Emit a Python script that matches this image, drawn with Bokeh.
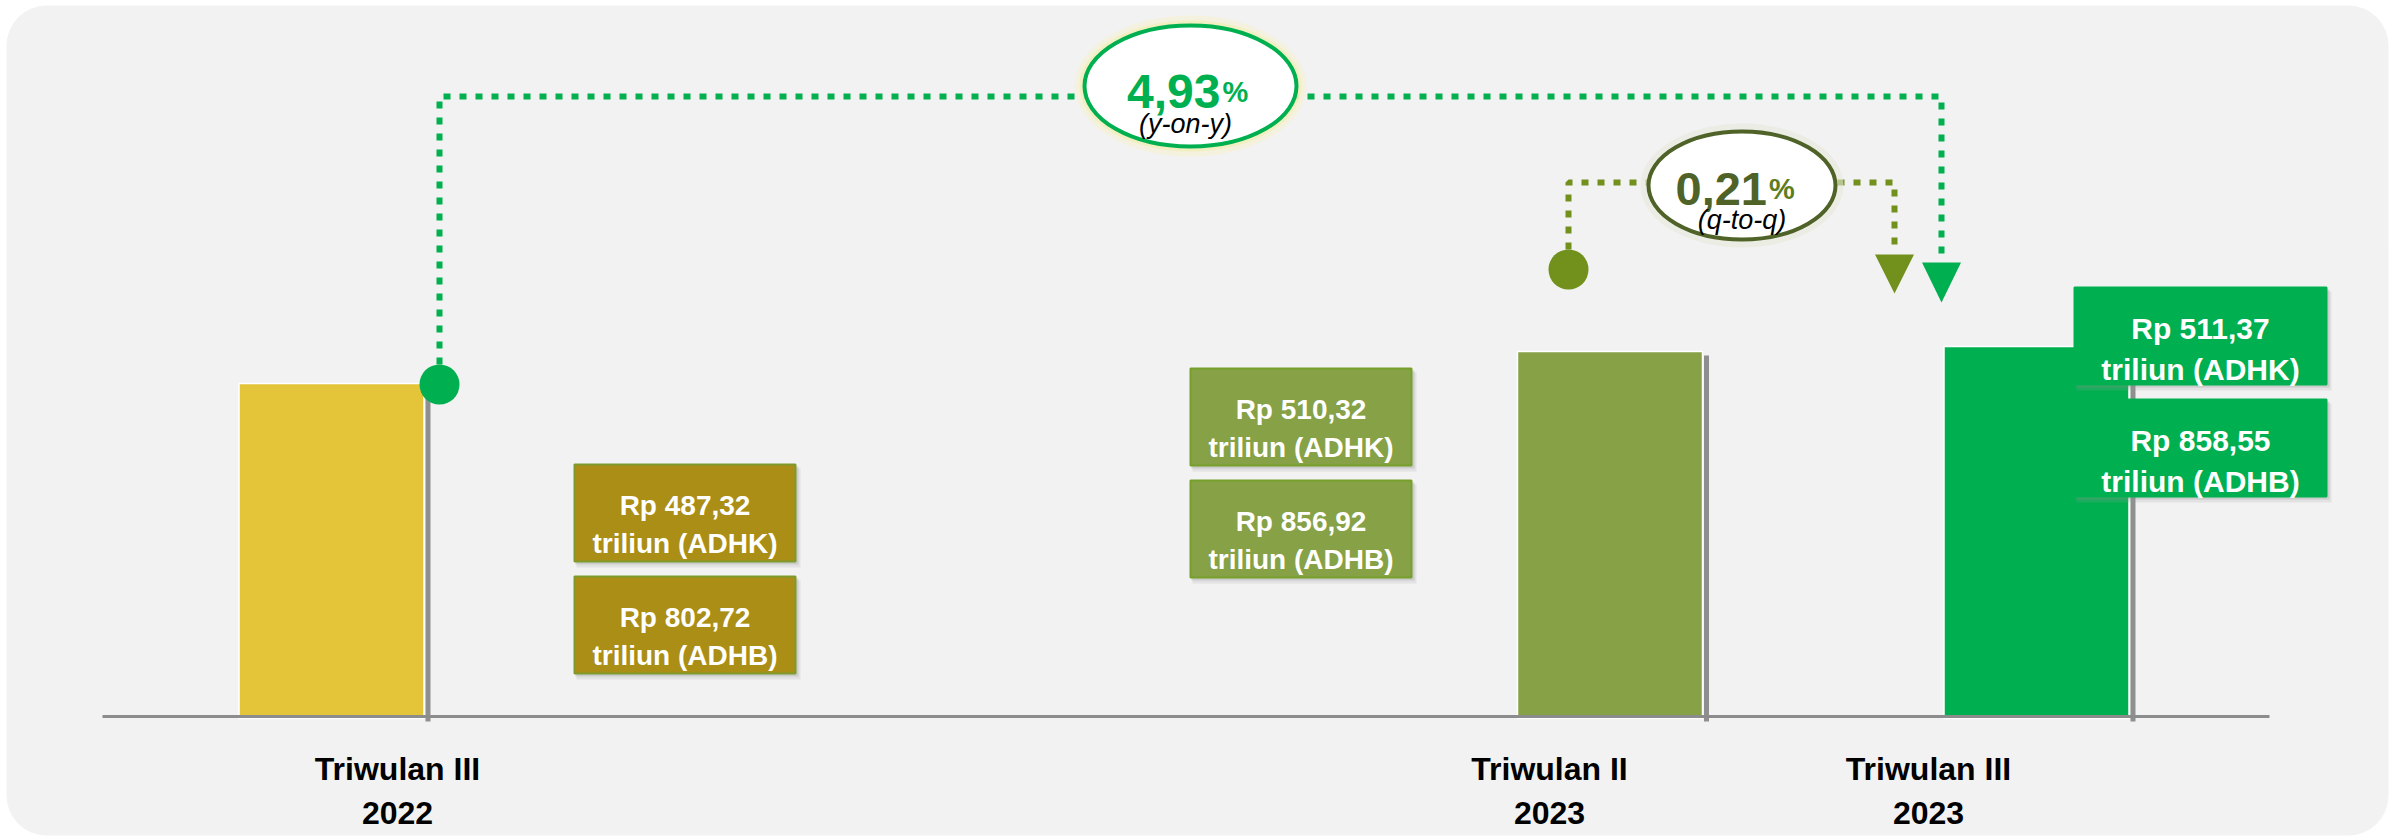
from bokeh.plotting import figure
from bokeh.models import Range1d, BoxAnnotation
from bokeh.core.properties import value
from bokeh.embed import file_html
from bokeh.resources import INLINE

# ---------------- data ----------------
period_line1 = ["Triwulan III", "Triwulan II", "Triwulan III"]
period_line2 = ["2022", "2023", "2023"]
adhk = [487.32, 510.32, 511.37]          # Rp triliun, constant prices
adhb = [802.72, 856.92, 858.55]          # Rp triliun, current prices
bar_height = [333, 365, 370]             # bar heights as drawn (illustrative units)
growth_yoy = 4.93                        # % y-on-y
growth_qtq = 0.21                        # % q-to-q

# ---------------- layout / style ----------------
W, H = 2403, 836
AXIS_Y = 716                       # page pixel row of the baseline
def Y(py):                         # page pixel row -> data y
    return AXIS_Y - py

bar_x = [331, 1609.5, 2036]
bar_w = 185
bar_colors = ["#E4C53A", "#86A146", "#00B050"]
box_colors = ["#AA8E16", "#86A146", "#00B050"]
box_lines = ["#7E9A2C", "#76A02C", "#00B050"]
label_x = [397, 1549, 1928]
FN = "Liberation Sans"
FI = "Liberation Sans"

p = figure(width=W, height=H, x_range=Range1d(0, W), y_range=Range1d(Y(H), Y(0)),
           output_backend="svg", toolbar_location=None, min_border=0)
p.axis.visible = False
p.grid.visible = False
p.outline_line_color = None
p.background_fill_color = "white"
p.border_fill_color = "white"

# rounded grey panel
p.add_layout(BoxAnnotation(left=6, right=2388, top=Y(5), bottom=Y(835),
                           fill_color="#F2F2F2", fill_alpha=1, line_color=None,
                           border_radius=40, level="underlay"))

# bars
p.vbar(x=bar_x, top=bar_height, bottom=-2, width=bar_w, fill_color=bar_colors,
       line_color="white", line_width=1.5)
# grey side lines
p.segment(x0=[x + bar_w / 2 + 4 for x in bar_x], y0=[h - 4 for h in bar_height],
          x1=[x + bar_w / 2 + 4 for x in bar_x], y1=[-5] * 3,
          line_color="#8F8F8F", line_width=5)
# baseline
p.segment(x0=[102], y0=[0], x1=[2269], y1=[0], line_color="#8C8C8C", line_width=3)

# category labels
p.text(x=label_x, y=[Y(768)] * 3, text=period_line1, text_font=value(FN),
       text_font_style="bold", text_font_size="32px", text_color="black",
       text_align="center", text_baseline="alphabetic")
p.text(x=label_x, y=[Y(812)] * 3, text=period_line2, text_font=value(FN),
       text_font_style="bold", text_font_size="32px", text_color="black",
       text_align="center", text_baseline="alphabetic")

# value boxes
def fmt(v):
    return ("Rp %.2f" % v).replace(".", ",")

boxes = [  # left, right, top1, top2, font size, baseline offsets
    (574, 795, 464, 576, 28, 41, 79),
    (1190, 1411, 368, 480, 28, 41, 79),
    (2074, 2326, 287, 399, 30, 41, 82),
]
for i, (l, r, t1, t2, fs, b1, b2) in enumerate(boxes):
    for t, v, tag in ((t1, adhk[i], "ADHK"), (t2, adhb[i], "ADHB")):
        bh = 97
        # soft shadow
        p.quad(left=[l + 2], right=[r + 5], top=[Y(t + 4)], bottom=[Y(t + bh + 6)],
               fill_color="#9A9A9A", fill_alpha=0.18, line_color=None)
        p.quad(left=[l + 1], right=[r + 3], top=[Y(t + 2)], bottom=[Y(t + bh + 3)],
               fill_color="#8A8A8A", fill_alpha=0.25, line_color=None)
        p.quad(left=[l], right=[r], top=[Y(t)], bottom=[Y(t + bh)],
               fill_color=box_colors[i], line_color=box_lines[i], line_width=2)
        cx = (l + r) / 2
        p.text(x=[cx], y=[Y(t + b1)], text=[fmt(v)], text_font=value(FN),
               text_font_style="bold", text_font_size="%dpx" % fs, text_color="white",
               text_align="center", text_baseline="alphabetic")
        p.text(x=[cx], y=[Y(t + b2)], text=["triliun (%s)" % tag], text_font=value(FN),
               text_font_style="bold", text_font_size="%dpx" % fs, text_color="white",
               text_align="center", text_baseline="alphabetic")

# connectors
GREEN = "#00B050"
OLIVE = "#71901C"
p.line(x=[439, 439, 1941, 1941], y=[Y(364), Y(96), Y(96), Y(258)],
       line_color=GREEN, line_width=6, line_dash="7 9")
p.line(x=[1568, 1568, 1894, 1894], y=[Y(249), Y(182), Y(182), Y(250)],
       line_color=OLIVE, line_width=6, line_dash="7 9")
p.scatter(x=[439], y=[Y(384)], size=40, fill_color=GREEN, line_color=None)
p.scatter(x=[1568], y=[Y(269)], size=40, fill_color=OLIVE, line_color=None)
p.patches(xs=[[1921.5, 1960.5, 1941], [1874.5, 1913.5, 1894]],
          ys=[[Y(262), Y(262), Y(302)], [Y(254), Y(254), Y(293)]],
          fill_color=[GREEN, OLIVE], line_color=None)

# growth ellipses
e1x, e1y, e1w, e1h = 1190, 85.5, 212, 121
e2x, e2y, e2w, e2h = 1741.5, 185, 187, 108
p.ellipse(x=[e1x], y=[Y(e1y)], width=[e1w + 20], height=[e1h + 20],
          fill_color="#F5F3D0", fill_alpha=0.55, line_color=None)
p.ellipse(x=[e1x], y=[Y(e1y)], width=[e1w + 10], height=[e1h + 10],
          fill_color="#F1EDB8", fill_alpha=0.8, line_color=None)
p.ellipse(x=[e2x], y=[Y(e2y)], width=[e2w + 16], height=[e2h + 16],
          fill_color="#E6EADB", fill_alpha=0.6, line_color=None)
p.ellipse(x=[e1x], y=[Y(e1y)], width=[e1w], height=[e1h],
          fill_color="white", line_color=GREEN, line_width=4)
p.ellipse(x=[e2x], y=[Y(e2y)], width=[e2w], height=[e2h],
          fill_color="white", line_color="#4F6228", line_width=4)

def pct(v):
    return ("%.2f" % v).replace(".", ",")

p.text(x=[e1x + 30], y=[Y(91)], text=[pct(growth_yoy)], text_font=value(FN),
       text_font_style="bold", text_font_size="48px", text_color=GREEN,
       text_align="right", text_baseline="alphabetic")
p.text(x=[e1x + 32], y=[Y(91)], text=["%"], text_font=value(FN),
       text_font_style="bold", text_font_size="29px", text_color=GREEN,
       text_align="left", text_baseline="alphabetic")
p.text(x=[e1x - 5], y=[Y(123)], text=["(y-on-y)"], text_font=value(FI),
       text_font_style="italic", text_font_size="27px", text_color="black",
       text_align="center", text_baseline="alphabetic")

p.text(x=[e2x + 25], y=[Y(188)], text=[pct(growth_qtq)], text_font=value(FN),
       text_font_style="bold", text_font_size="47px", text_color="#4F6228",
       text_align="right", text_baseline="alphabetic")
p.text(x=[e2x + 27], y=[Y(188)], text=["%"], text_font=value(FN),
       text_font_style="bold", text_font_size="29px", text_color="#5E7D1E",
       text_align="left", text_baseline="alphabetic")
p.text(x=[e2x], y=[Y(219)], text=["(q-to-q)"], text_font=value(FI),
       text_font_style="italic", text_font_size="27px", text_color="black",
       text_align="center", text_baseline="alphabetic")

open("out.html", "w").write(file_html(p, INLINE))
